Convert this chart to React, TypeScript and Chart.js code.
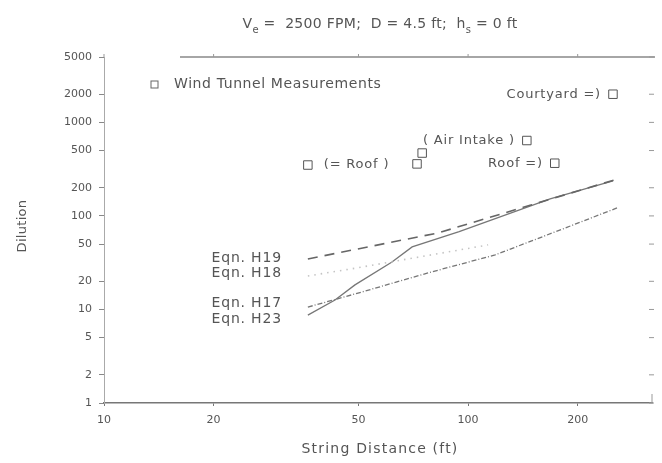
import React, { useEffect, useRef } from "react";
import { Chart, registerables } from "chart.js";

Chart.register(...registerables);

// ---- data ----
const xTicks = [10, 20, 50, 100, 200];
const yTicks = [1, 2, 5, 10, 20, 50, 100, 200, 500, 1000, 2000, 5000];

const h19X = [36.3, 53.8, 82.7, 148, 253];
const h19Y = [34.7, 47.1, 65.8, 130, 243];

const h18X = [36.3, 49.5, 113.5];
const h18Y = [22.8, 27.8, 49];

const h17X = [36.3, 51.2, 77.6, 118.7, 186, 257];
const h17Y = [10.6, 15.4, 24.6, 38.3, 75, 122];

const h23X = [36.3, 43.1, 48.9, 61.8, 70.2, 94.5, 168, 250];
const h23Y = [8.7, 12.6, 18.3, 32.2, 46.6, 68, 152, 237];

const measX = [36.3, 72.4, 74.8, 145, 173, 250];
const measY = [350, 360, 470, 640, 366, 2000];
const measLabels = ["(= Roof )", "", "", "( Air Intake )", "Roof =)", "Courtyard =)"];
const measLabelSide = ["after", "", "", "before", "before", "before"];

const eqnLabels = ["Eqn. H19", "Eqn. H18", "Eqn. H17", "Eqn. H23"];

const FONT = "'DejaVu Sans', sans-serif";
const TEXT = "#555";

export default function App() {
  const ref = useRef<HTMLCanvasElement>(null);

  useEffect(() => {
    const canvas = ref.current!;
    const pts = (xs: number[], ys: number[]) => xs.map((x, i) => ({ x, y: ys[i] }));

    const overlay = {
      id: "overlay",
      afterDraw(chart: any) {
        const ctx = chart.ctx as CanvasRenderingContext2D;
        const { left, right, top, bottom } = chart.chartArea;
        const xs = chart.scales.x;
        const ys = chart.scales.y;
        ctx.save();
        const txt = (s: string, x: number, y: number, align: CanvasTextAlign, size: number, spacing = "1px") => {
          ctx.font = `${size}px ${FONT}`;
          (ctx as any).letterSpacing = spacing;
          ctx.textAlign = align;
          ctx.textBaseline = "middle";
          ctx.fillStyle = TEXT;
          ctx.fillText(s, x, y);
        };

        // title with subscripts
        const parts: [string, boolean][] = [
          ["V", false], ["e", true], [" =  2500 FPM;  D = 4.5 ft;  h", false], ["s", true], [" = 0 ft", false],
        ];
        (ctx as any).letterSpacing = "0.3px";
        let total = 0;
        for (const [t, sub] of parts) {
          ctx.font = `${sub ? 10 : 14}px ${FONT}`;
          total += ctx.measureText(t).width;
        }
        let tx = (left + right) / 2 + 2 - total / 2;
        for (const [t, sub] of parts) {
          ctx.font = `${sub ? 10 : 14}px ${FONT}`;
          ctx.textAlign = "left";
          ctx.textBaseline = "alphabetic";
          ctx.fillStyle = TEXT;
          ctx.fillText(t, tx, sub ? 33 : 28);
          tx += ctx.measureText(t).width;
        }

        // axis titles
        txt("String Distance (ft)", (left + right) / 2 + 2, bottom + 46, "center", 14, "1.2px");
        ctx.save();
        ctx.translate(23, (top + bottom) / 2 - 4);
        ctx.rotate(-Math.PI / 2);
        txt("Dilution", 0, 0, "center", 13, "0.3px");
        ctx.restore();

        // top line and right ticks (frame)
        ctx.strokeStyle = "#888";
        ctx.lineWidth = 1.5;
        ctx.setLineDash([]);
        ctx.beginPath();
        ctx.moveTo(left + 76, top);
        ctx.lineTo(right + 3, top);
        ctx.stroke();
        ctx.strokeStyle = "#999";
        ctx.lineWidth = 1;
        for (const v of yTicks) {
          const y = ys.getPixelForValue(v);
          ctx.beginPath();
          ctx.moveTo(right - 3, y);
          ctx.lineTo(right + 2, y);
          ctx.stroke();
        }
        ctx.beginPath();
        ctx.moveTo(right, bottom);
        ctx.lineTo(right, bottom - 9);
        ctx.stroke();
        for (const v of xTicks) {
          const x = xs.getPixelForValue(v);
          ctx.beginPath();
          ctx.moveTo(x, top);
          ctx.lineTo(x, top - 3);
          ctx.stroke();
        }

        // legend note
        ctx.strokeStyle = "#666";
        ctx.lineWidth = 1;
        ctx.strokeRect(left + 47, top + 24, 7, 7);
        txt("Wind Tunnel Measurements", left + 70, top + 27, "left", 14, "0.6px");

        // measurement labels
        measLabels.forEach((lab, i) => {
          if (!lab) return;
          const px = xs.getPixelForValue(measX[i]);
          const py = ys.getPixelForValue(measY[i]);
          if (measLabelSide[i] === "after") txt(lab, px + 16, py, "left", 13, "0.8px");
          else txt(lab, px - 12, py, "right", 13, "0.8px");
        });

        // equation labels
        const firstY = [h19Y[0], h18Y[0], h17Y[0], h23Y[0]];
        const offs = [-1, -3, -4, 4];
        const lx = xs.getPixelForValue(h19X[0]) - 26;
        eqnLabels.forEach((lab, i) => {
          txt(lab, lx, ys.getPixelForValue(firstY[i]) + offs[i], "right", 14, "0.8px");
        });
        ctx.restore();
      },
    };

    const lineDs = (label: string, xsA: number[], ysA: number[], color: string, width: number, dash: number[]) => ({
      label,
      data: pts(xsA, ysA),
      showLine: true,
      borderColor: color,
      borderWidth: width,
      borderDash: dash,
      pointRadius: 0,
      fill: false,
      tension: 0,
    });

    const chart = new Chart(canvas, {
      type: "scatter",
      data: {
        datasets: [
          lineDs("Eqn. H19", h19X, h19Y, "#666", 1.6, [10, 7]),
          lineDs("Eqn. H18", h18X, h18Y, "#c4c4c4", 1.6, [1.5, 5]),
          lineDs("Eqn. H17", h17X, h17Y, "#777", 1.3, [5, 2, 1, 2]),
          lineDs("Eqn. H23", h23X, h23Y, "#777", 1.3, []),
          {
            label: "Wind Tunnel Measurements",
            data: pts(measX, measY),
            showLine: false,
            pointStyle: "rect",
            pointRadius: 6,
            pointBorderColor: "#555",
            pointBorderWidth: 1,
            pointBackgroundColor: "rgba(0,0,0,0)",
          } as any,
        ],
      },
      options: {
        responsive: false,
        devicePixelRatio: 1,
        animation: false,
        layout: { padding: { top: 57, right: 10, left: 0, bottom: 0 } },
        plugins: { legend: { display: false }, tooltip: { enabled: false }, title: { display: false } },
        scales: {
          x: {
            type: "logarithmic",
            min: 10,
            max: 320,
            afterBuildTicks: (s: any) => { s.ticks = xTicks.map((v) => ({ value: v })); },
            afterFit: (s: any) => { s.height = 60; },
            ticks: {
              autoSkip: false,
              maxRotation: 0,
              padding: 8,
              color: TEXT,
              font: { family: FONT, size: 11 },
              callback: (v: any) => String(v),
            },
            grid: { drawOnChartArea: false, tickLength: 3, color: "#777" },
            border: { color: "#777", width: 1.5 },
          },
          y: {
            type: "logarithmic",
            min: 1,
            max: 5000,
            afterBuildTicks: (s: any) => { s.ticks = yTicks.map((v) => ({ value: v })); },
            afterFit: (s: any) => { s.width = 104; },
            ticks: {
              autoSkip: false,
              padding: 7,
              color: TEXT,
              font: { family: FONT, size: 11 },
              callback: (v: any) => String(v),
            },
            grid: { drawOnChartArea: false, tickLength: 5, color: "#888" },
            border: { color: "#aaa", width: 1, dash: [4, 3] },
          },
        },
      },
      plugins: [overlay],
    });
    return () => chart.destroy();
  }, []);

  return (
    <div style={{ position: "fixed", left: 0, top: 0, width: 662, height: 463, background: "#fff" }}>
      <canvas ref={ref} width={662} height={463} style={{ display: "block" }} />
    </div>
  );
}
